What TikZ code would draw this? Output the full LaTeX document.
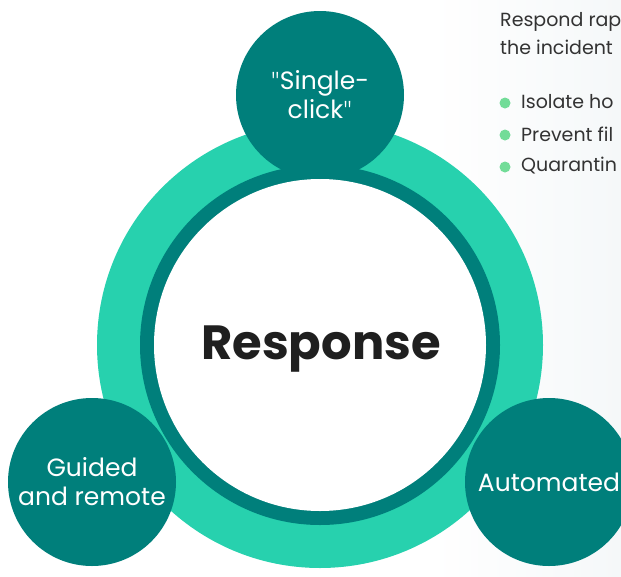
\documentclass[tikz,border=0pt]{standalone}
\usepackage{fontspec}
\setmainfont{Poppins}[Ligatures=ResetAll]
\newfontfamily\qf{Fira Sans Light}[Ligatures=ResetAll]
\definecolor{teal1}{HTML}{007F7B}
\definecolor{mint}{HTML}{27D1AE}
\definecolor{dotc}{HTML}{72DC98}
\definecolor{txt}{HTML}{333333}
\definecolor{bgr}{HTML}{F5F8F9}
\begin{document}
\begin{tikzpicture}[x=1pt,y=-1pt,
  small/.style={circle,fill=teal1,minimum size=168pt,inner sep=0pt,text=white,font=\fontsize{25}{29}\selectfont,align=center},
  ringtxt/.style={anchor=west,text=txt,font=\fontsize{19}{22}\selectfont,inner sep=0pt},
  dot/.style={circle,fill=dotc,minimum size=11pt,inner sep=0pt}]
\useasboundingbox (0,0) rectangle (621,576);
\begin{scope}
\clip (0,0) rectangle (621,576);
\shade[left color=white,right color=bgr] (430,0) rectangle (621,576);
\fill[mint] (320,345) circle (223);
\fill[teal1] (320,345) circle (180);
\fill[white] (320,345) circle (166);
\node[font=\fontsize{48}{52}\selectfont\bfseries,text=black!88] (resp) at (321,349) {Response};
\node[small] (single) at (320,95) {{\qf"}Single-\\click{\qf"}};
\node[small] (guided) at (92,482) {Guided\\and remote};
\node[small] (auto) at (549,482) {Automated};
\node[ringtxt] (t1) at (500,22) {Respond rap};
\node[ringtxt] (t2) at (500,47) {the incident};
\node[dot] (d1) at (505,103) {};
\node[ringtxt] (b1) at (521,102) {Isolate ho};
\node[dot] (d2) at (505,135) {};
\node[ringtxt] (b2) at (521,134) {Prevent fil};
\node[dot] (d3) at (505,167) {};
\node[ringtxt] (b3) at (521,166) {Quarantin};
\end{scope}
\end{tikzpicture}
\end{document}
